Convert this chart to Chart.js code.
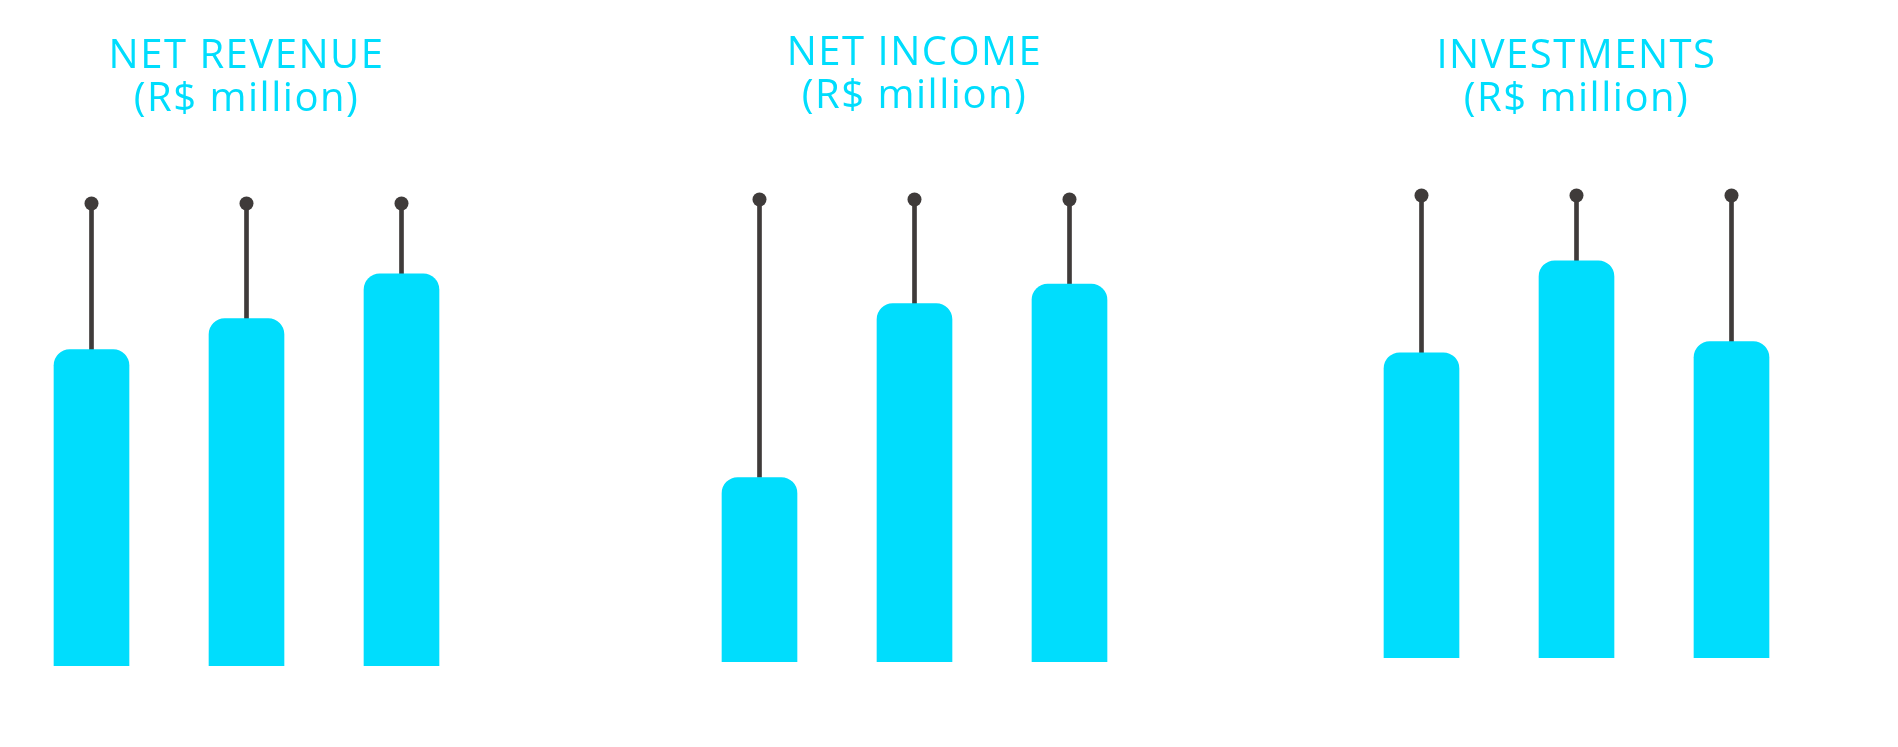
<!DOCTYPE html>
<html>
<head>
<meta charset="utf-8">
<script src="https://cdn.jsdelivr.net/npm/chart.js@4"></script>
<style>
  html, body { margin: 0; padding: 0; background: #fff; }
  body { width: 1898px; height: 747px; position: relative; overflow: hidden; }
  .panel { position: absolute; width: 465px; height: 747px; }
</style>
</head>
<body>
<div class="panel" id="p1" style="left:14px; top:0px;"><canvas id="c1"></canvas></div>
<div class="panel" id="p2" style="left:682px; top:-4px;"><canvas id="c2"></canvas></div>
<div class="panel" id="p3" style="left:1344px; top:-8px;"><canvas id="c3"></canvas></div>
<script>
// Data (bar heights, relative to the lollipop tip = 100)
const periods = ['Y1', 'Y2', 'Y3'];
const revenueValues = [68.4, 75.1, 84.8];
const incomeValues = [39.9, 77.5, 81.7];
const investmentValues = [66.0, 85.9, 68.4];
const tipLevel = [100, 100, 100];

const CYAN = '#00ddfd';
const DARK = '#3f3b3a';

// canvas letterSpacing for the spaced-out titles
const spacingPlugin = {
  id: 'spacing',
  beforeDraw(chart) {
    chart.ctx.letterSpacing = '1.5px';
  }
};

function makeChart(canvasId, title, values, titleTop) {
  const ctx = document.getElementById(canvasId).getContext('2d');
  return new Chart(ctx, {
    type: 'bar',
    data: {
      labels: periods,
      datasets: [
        {
          type: 'line',
          label: 'tip',
          data: tipLevel,
          showLine: false,
          pointRadius: 7,
          pointHoverRadius: 7,
          pointBackgroundColor: DARK,
          pointBorderWidth: 0,
          order: 0,
        },
        {
          label: 'stem',
          data: values.map((v, i) => [v, tipLevel[i]]),
          backgroundColor: DARK,
          barThickness: 4,
          grouped: false,
          order: 2,
        },
        {
          label: title,
          data: values,
          backgroundColor: CYAN,
          barThickness: 75,
          grouped: false,
          borderSkipped: 'bottom',
          borderRadius: { topLeft: 16, topRight: 16, bottomLeft: 0, bottomRight: 0 },
          order: 1,
        },
      ],
    },
    options: {
      responsive: true,
      maintainAspectRatio: false,
      animation: false,
      layout: { autoPadding: false, padding: { left: 0, right: 0, top: 0, bottom: 81 } },
      plugins: {
        legend: { display: false },
        tooltip: { enabled: false },
        title: {
          display: true,
          text: [title, '(R$ million)'],
          color: CYAN,
          font: { family: '"Open Sans", sans-serif', size: 40, weight: 'normal', lineHeight: 1.08 },
          padding: { top: titleTop, bottom: 94 - titleTop },
        },
      },
      scales: {
        x: { display: false, offset: true },
        y: { display: false, min: 0, max: 105 },
      },
    },
    plugins: [spacingPlugin],
  });
}

makeChart('c1', 'NET REVENUE', revenueValues, 35);
makeChart('c2', 'NET INCOME', incomeValues, 36);
makeChart('c3', 'INVESTMENTS', investmentValues, 43);
</script>
</body>
</html>
